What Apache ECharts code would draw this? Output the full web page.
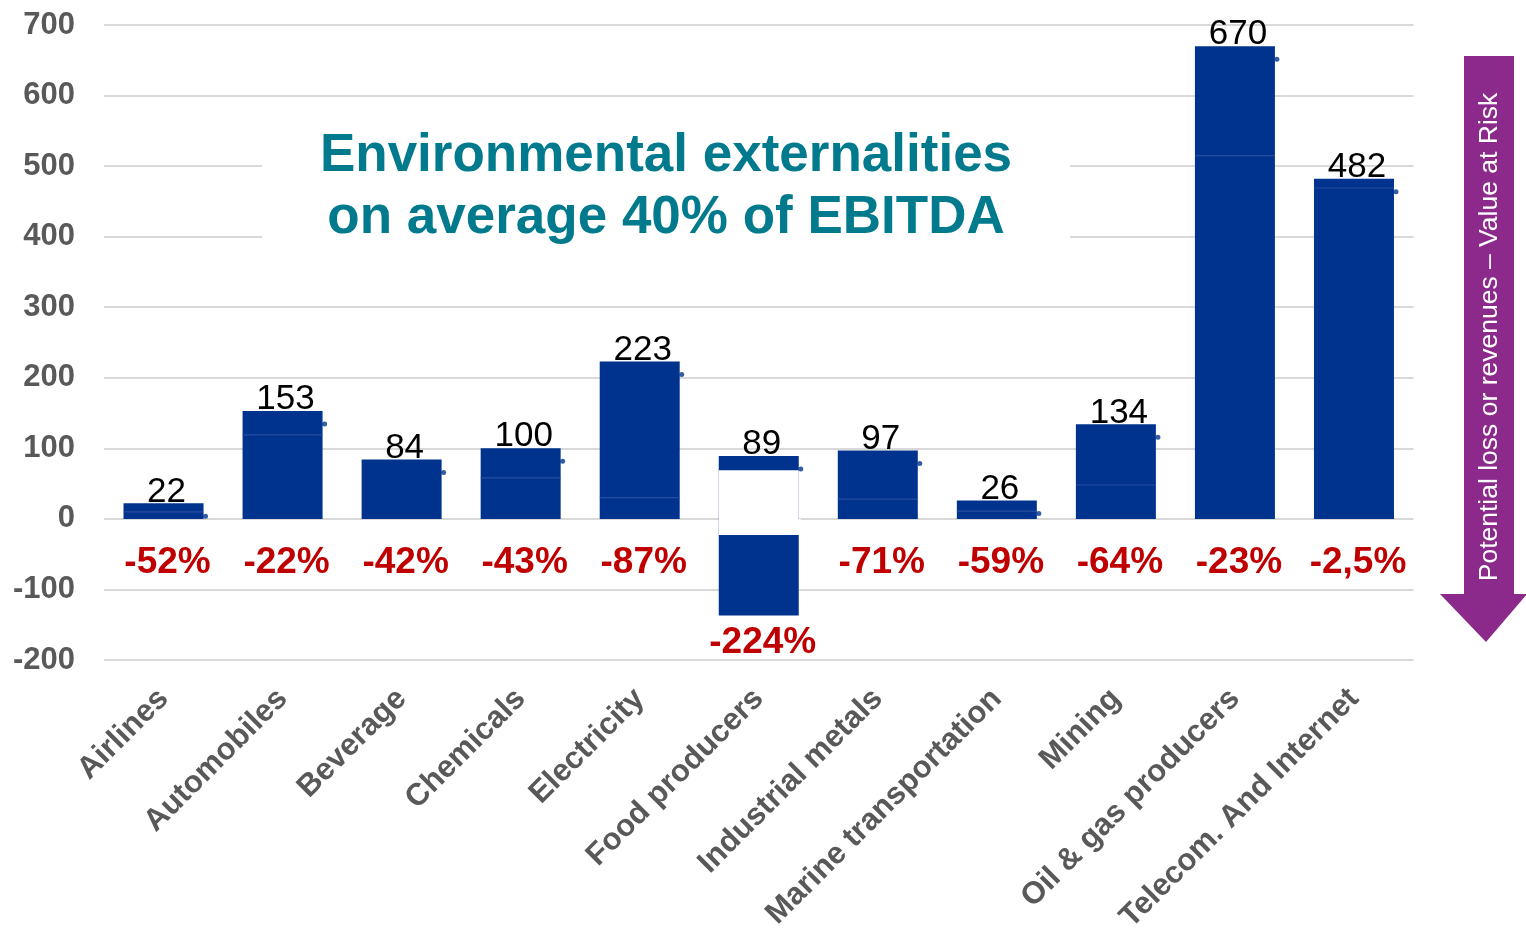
<!DOCTYPE html>
<html>
<head>
<meta charset="utf-8">
<script src="https://cdn.jsdelivr.net/npm/echarts@6/dist/echarts.min.js"></script>
<style>
html,body{margin:0;padding:0;background:#fff;}
#chart{width:1526px;height:931px;}
</style>
</head>
<body>
<div id="chart"></div>
<script>
// ---- data ----
const categories = ['Airlines','Automobiles','Beverage','Chemicals','Electricity','Food producers','Industrial metals','Marine transportation','Mining','Oil & gas producers','Telecom. And Internet'];
const values = [22, 153, 84, 100, 223, 89, 97, 26, 134, 670, 482];
const pctLabels = ['-52%','-22%','-42%','-43%','-87%','-224%','-71%','-59%','-64%','-23%','-2,5%'];
// Food producers: negative part of the bar, and the white gap drawn over it
const negBar = [null, null, null, null, null, -137, null, null, null, null, null];
const gapTop = [null, null, null, null, null, 69, null, null, null, null, null];
const gapBottom = [null, null, null, null, null, -23, null, null, null, null, null];
// faint lighter separators seen inside the bars
const innerLines = [10, 119, null, 58, 30, null, 28, 11, 48, 515, 469];
const yTicks = {min: -200, max: 700, step: 100};
const titleLines = ['Environmental externalities', 'on average 40% of EBITDA'];
const arrowText = 'Potential loss or revenues \u2013 Value at Risk';

// ---- style ----
const FONT = 'Arial, "Liberation Sans", sans-serif';
const BLUE = '#00338D';
const GREY = '#595959';
const RED = '#C00000';
const BW = 80;

const chart = echarts.init(document.getElementById('chart'), null, {renderer: 'canvas'});

const carrier = values.map((v, i) => negBar[i] != null
  ? {value: negBar[i], label: {distance: 9}}
  : {value: v});

const option = {
  backgroundColor: '#fff',
  animation: false,
  grid: {left: 104, right: 112.5, top: 25, bottom: 271, containLabel: false, outerBoundsMode: 'none'},
  xAxis: {
    type: 'category',
    data: categories,
    boundaryGap: true,
    axisLine: {show: false, onZero: false},
    axisTick: {show: false},
    axisLabel: {
      interval: 0, rotate: 45, margin: 34,
      fontFamily: FONT, fontSize: 31, fontWeight: 'bold', color: GREY
    },
    splitLine: {show: false}
  },
  yAxis: {
    type: 'value',
    min: yTicks.min, max: yTicks.max, interval: yTicks.step,
    axisLine: {show: false},
    axisTick: {show: false},
    axisLabel: {margin: 29, fontFamily: FONT, fontSize: 31, fontWeight: 'bold', color: GREY},
    splitLine: {lineStyle: {color: '#d9d9d9', width: 2}}
  },
  series: [
    {
      name: 'values', type: 'bar', data: values, barWidth: BW, barGap: '-100%',
      itemStyle: {color: BLUE},
      label: {show: true, position: 'top', distance: -6, offset: [3, 0], fontFamily: FONT, fontSize: 35, color: '#000'}
    },
    {
      name: 'negative', type: 'bar', data: negBar, barWidth: BW, barGap: '-100%',
      itemStyle: {color: BLUE}
    },
    {
      name: 'gapTop', type: 'bar', data: gapTop, barWidth: BW, barGap: '-100%',
      itemStyle: {color: '#fff'}, silent: true
    },
    {
      name: 'gapBottom', type: 'bar', data: gapBottom, barWidth: BW + 2, barGap: '-100%',
      itemStyle: {color: '#fff'}, silent: true
    },
    {
      name: 'pct', type: 'bar', data: carrier, barWidth: BW, barGap: '-100%',
      itemStyle: {color: 'rgba(0,0,0,0)'},
      label: {
        show: true, position: 'bottom',
        distance: 25, offset: [4, 0],
        formatter: p => pctLabels[p.dataIndex],
        fontFamily: FONT, fontSize: 37, fontWeight: 'bold', color: RED
      },
      z: 5
    },
    {
      name: 'inner', type: 'scatter', data: innerLines, symbol: 'rect', symbolSize: [BW, 1.2],
      itemStyle: {color: '#2f55a4'}, z: 3, silent: true
    },
    {
      name: 'dots', type: 'scatter', data: values, symbol: 'circle', symbolSize: 5,
      symbolOffset: [42, 13], itemStyle: {color: BLUE}, z: 3, silent: true
    }
  ],
  graphic: [
    {type: 'rect', z: 1, shape: {x: 262, y: 110, width: 808, height: 150}, style: {fill: '#fff'}},
    {type: 'text', z: 2, x: 666, y: 187, style: {
      text: titleLines.join('\n'), align: 'center', verticalAlign: 'middle', lineHeight: 62,
      font: 'bold 53px ' + FONT, fill: '#007A8C'
    }},
    {type: 'polygon', z: 2, shape: {points: [[1464,56],[1514,56],[1514,594],[1527,594],[1486,642],[1440,594],[1464,594]]},
      style: {fill: '#8C2A8B'}},
    {type: 'text', z: 3, x: 1490, y: 337, rotation: Math.PI / 2, style: {
      text: arrowText, align: 'center', verticalAlign: 'middle',
      font: '26.5px ' + FONT, fill: '#fff'
    }}
  ]
};
chart.setOption(option);
</script>
</body>
</html>
